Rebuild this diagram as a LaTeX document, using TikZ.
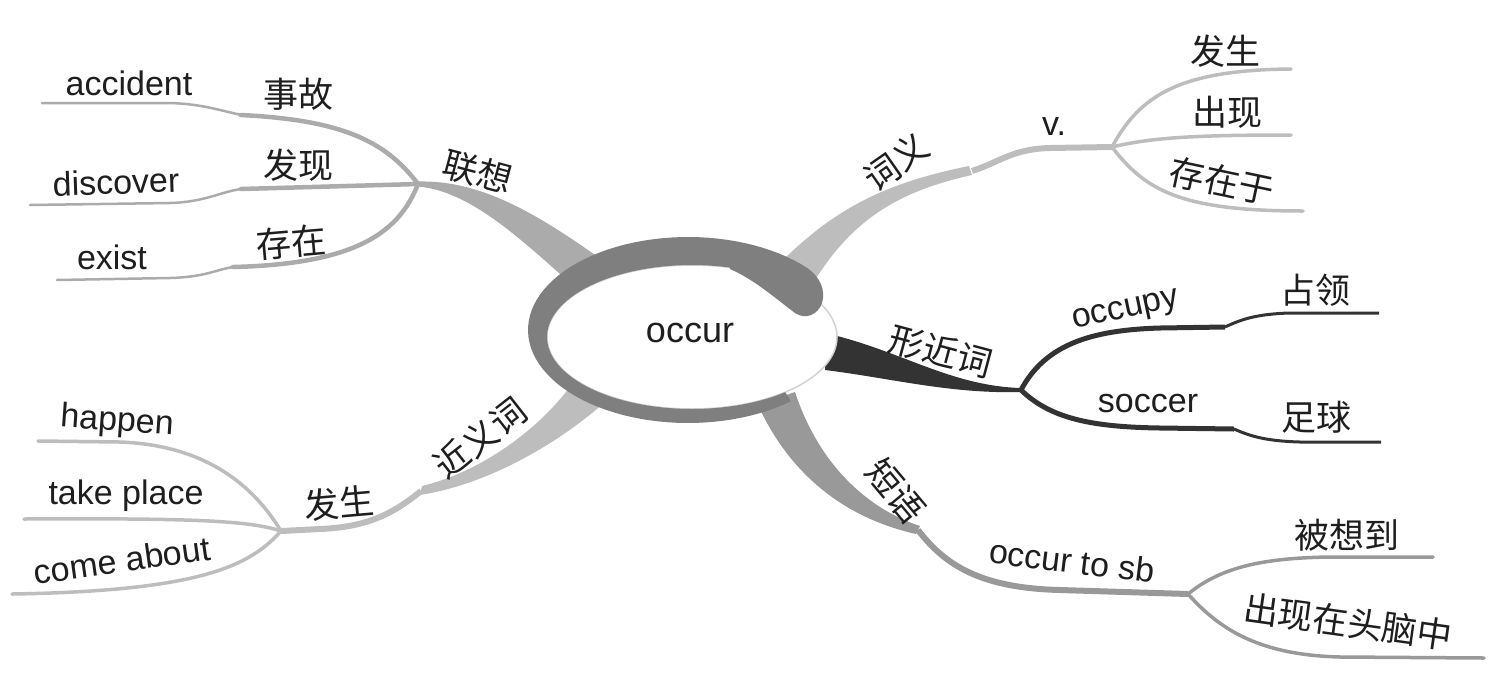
\documentclass[tikz,border=0pt]{standalone}
\usepackage{fontspec}
\setmainfont{Liberation Sans}
\newfontfamily\cjk{Noto Sans CJK SC}
\usetikzlibrary{calc}
\definecolor{gA}{HTML}{ABABAB}
\definecolor{gB}{HTML}{BDBDBD}
\definecolor{gC}{HTML}{999999}
\definecolor{gD}{HTML}{333333}
\definecolor{ringc}{HTML}{7F7F7F}
\definecolor{txt}{HTML}{1E1E1E}
\tikzset{
  en/.style={font=\fontsize{34}{38}\selectfont, text=txt, inner sep=0pt},
  zh/.style={font=\cjk\fontsize{35}{40}\selectfont, text=txt, inner sep=0pt},
  wide/.style={line width=4.5pt, line cap=round},
  slim/.style={line width=2.5pt, line cap=round},
  mid/.style={line width=3.5pt, line cap=round},
}
\begin{document}
\begin{tikzpicture}[x=1pt,y=-1pt]
\fill[white] (0,0) rectangle (1490,681);
\useasboundingbox (0,0) rectangle (1490,681);

% junctions and kinks
\coordinate (J1) at (418,184);
\coordinate (J2) at (1112,147);
\coordinate (K2) at (972,171);
\coordinate (J3) at (1021,390);
\coordinate (K4) at (918,530);
\coordinate (J4) at (1188,594);
\coordinate (K5) at (421,491);
\coordinate (J5) at (281,531);
% line ends
\coordinate (kAcc) at (241,115); \coordinate (eAcc) at (42,103);
\coordinate (kDis) at (241,189); \coordinate (eDis) at (30,205);
\coordinate (kExi) at (233,267); \coordinate (eExi) at (57,280);
\coordinate (eFa) at (1291,69);
\coordinate (eChu) at (1291,135);
\coordinate (eCun) at (1303,211);
\coordinate (kOcc) at (1225,327); \coordinate (eOcc) at (1379,313);
\coordinate (kSoc) at (1234,429); \coordinate (eSoc) at (1381,442);
\coordinate (eBei) at (1433,557);
\coordinate (eChx) at (1484,658);
\coordinate (eHap) at (38,441);
\coordinate (eTak) at (24,519);
\coordinate (eCom) at (12,594);

% ---- main tapered branches
\fill[gA] ($(J1)+(0,-2.5)$) .. controls (480,180) and (535,212) .. (605,262)
  -- (580,292) .. controls (520,238) and (470,191) .. ($(J1)+(0,2.5)$) -- cycle;
\fill[gB] ($(K2)+(-3,-5)$) .. controls (890,182) and (840,205) .. (785,258)
  -- (812,285) .. controls (850,222) and (895,192) .. ($(K2)+(0,4)$) -- cycle;
\draw[gB, line width=6pt] (K2) .. controls (1000,162) and (1012,149) .. (1050,148) -- (J2);
\fill[gD] (825,333) .. controls (900,350) and (950,386) .. ($(J3)+(0,-2)$)
  -- ($(J3)+(0,2)$) .. controls (950,394) and (890,378) .. (825,370) -- cycle;
\fill[gC] (758,405) .. controls (790,475) and (845,518) .. ($(K4)+(-2,4)$)
  -- ($(K4)+(2,-4)$) .. controls (865,508) and (818,462) .. (795,392) -- cycle;
\draw[gC, line width=6pt] (K4) .. controls (945,565) and (980,588) .. (1060,590) -- (J4);
\fill[gB] (575,380) .. controls (540,430) and (480,472) .. ($(K5)+(1,-5)$)
  -- ($(K5)+(-1,4)$) .. controls (490,484) and (560,442) .. (605,402) -- cycle;
\draw[gB, line width=6pt] (K5) .. controls (395,512) and (370,527) .. (320,529) -- (J5);

% ---- sub branches
\draw[gA, wide] (J1) .. controls (385,140) and (340,120) .. (kAcc);
\draw[gA, slim] (kAcc) .. controls (215,109) and (200,104) .. (170,103) -- (eAcc);
\draw[gA, wide] (J1) -- (kDis);
\draw[gA, slim] (kDis) .. controls (220,192) and (205,202) .. (170,203) -- (eDis);
\draw[gA, wide] (J1) .. controls (400,230) and (360,264) .. (kExi);
\draw[gA, slim] (kExi) .. controls (215,270) and (205,277) .. (170,278) -- (eExi);

\draw[gB, mid] (J2) .. controls (1140,95) and (1180,70) .. (eFa);
\draw[gB, mid] (J2) .. controls (1150,138) and (1190,135) .. (eChu);
\draw[gB, mid] (J2) .. controls (1145,190) and (1180,211) .. (eCun);

\draw[gD, line width=5pt] (J3) .. controls (1045,345) and (1090,330) .. (1160,328) -- (kOcc);
\draw[gD, line width=3pt] (kOcc) .. controls (1240,320) and (1255,314) .. (1290,313) -- (eOcc);
\draw[gD, line width=5pt] (J3) .. controls (1050,418) and (1090,427) .. (1160,428) -- (kSoc);
\draw[gD, line width=3pt] (kSoc) .. controls (1250,436) and (1265,441) .. (1300,442) -- (eSoc);

\draw[gC, mid] (J4) .. controls (1220,568) and (1260,558) .. (1330,557) -- (eBei);
\draw[gC, mid] (J4) .. controls (1220,630) and (1260,655) .. (1340,657) -- (eChx);

\draw[gB, mid] (J5) .. controls (250,480) and (200,445) .. (120,442) -- (eHap);
\draw[gB, mid] (J5) .. controls (250,521) and (200,518) .. (eTak);
\draw[gB, mid] (J5) .. controls (250,566) and (200,591) .. (eCom);

% ---- central ellipse with swoosh
\fill[white, draw=gray!35, line width=1.5pt] (692,337) ellipse [x radius=145, y radius=72];
\fill[ringc] plot[domain=50:318, samples=80] ({688+160*cos(\x)},{330+93*sin(\x)})
  .. controls (820,277) and (826,290) .. (822,303)
  .. controls (818,315) and (805,320) .. (795,313)
  .. controls (775,298) and (755,280) .. (730,269)
  -- plot[domain=285:50, samples=80] ({692+145*cos(\x)},{337+72*sin(\x)}) -- cycle;
\node[en, font=\fontsize{36}{40}\selectfont] (occur) at (690,333) {occur};

% ---- labels
\node[en] (accident) at (129,83) {accident};
\node[zh] (shigu) at (298,94) {事故};
\node[zh, rotate=-15] (lianxiang) at (478,172) {联想};
\node[en, rotate=2] (discover) at (116,182) {discover};
\node[zh] (faxian) at (298,165) {发现};
\node[en] (exist) at (112,257) {exist};
\node[zh, rotate=5] (cunzai) at (291,242) {存在};

\node[zh, rotate=35] (ciyi) at (896,162) {词义};
\node[en] (v) at (1054,127) {v.};
\node[zh] (fasheng1) at (1225,51) {发生};
\node[zh] (chuxian) at (1227,112) {出现};
\node[zh, rotate=-12] (cunzaiyu) at (1222,181) {存在于};

\node[zh, rotate=-15] (xingjinci) at (941,351) {形近词};
\node[en, rotate=12] (occupy) at (1126,312) {occupy};
\node[zh] (zhanling) at (1315,290) {占领};
\node[en] (soccer) at (1148,404) {soccer};
\node[zh] (zuqiu) at (1316,417) {足球};

\node[zh, rotate=-50] (duanyu) at (896,491) {短语};
\node[en, rotate=-7] (occurto) at (1072,561) {occur to sb};
\node[zh] (beixiangdao) at (1347,535) {被想到};
\node[zh, rotate=-8] (chuxianzai) at (1348,622) {出现在头脑中};

\node[zh, rotate=38] (jinyici) at (480,438) {近义词};
\node[zh, rotate=5] (fasheng2) at (339,503) {发生};
\node[en, rotate=-4] (happen) at (117,422) {happen};
\node[en] (takeplace) at (126,496) {take place};
\node[en, rotate=8] (comeabout) at (122,560) {come about};
\end{tikzpicture}
\end{document}
